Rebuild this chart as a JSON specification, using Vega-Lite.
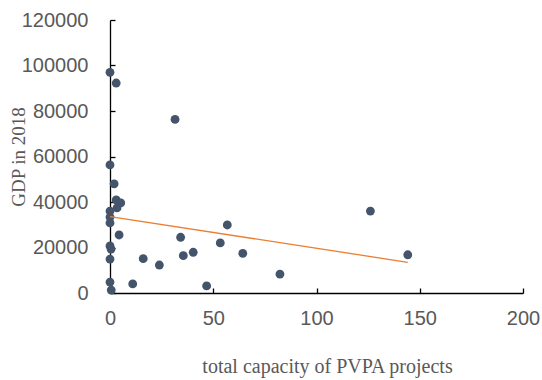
{
  "$schema": "https://vega.github.io/schema/vega-lite/v6.json",
  "width": 413,
  "height": 273,
  "autosize": {"type": "none"},
  "padding": {"left": 110, "top": 20, "right": 19, "bottom": 87},
  "background": "white",
  "config": {"view": {"stroke": null}},
  "data": {"values": [
    {"capacity": 0, "gdp": 97000},
    {"capacity": 3, "gdp": 92300},
    {"capacity": 31.5, "gdp": 76300},
    {"capacity": 0, "gdp": 56300},
    {"capacity": 2, "gdp": 48000},
    {"capacity": 3, "gdp": 40900},
    {"capacity": 5.2, "gdp": 39600},
    {"capacity": 3.4, "gdp": 37400},
    {"capacity": 0, "gdp": 36000},
    {"capacity": 0, "gdp": 33400},
    {"capacity": 0, "gdp": 30800},
    {"capacity": 4.4, "gdp": 25500},
    {"capacity": 0, "gdp": 20700},
    {"capacity": 0.5, "gdp": 19300},
    {"capacity": 0, "gdp": 14900},
    {"capacity": 0, "gdp": 4800},
    {"capacity": 0.6, "gdp": 1300},
    {"capacity": 11, "gdp": 4000},
    {"capacity": 16.1, "gdp": 15100},
    {"capacity": 23.9, "gdp": 12300},
    {"capacity": 34.2, "gdp": 24500},
    {"capacity": 35.5, "gdp": 16400},
    {"capacity": 40.3, "gdp": 17900},
    {"capacity": 56.8, "gdp": 29900},
    {"capacity": 53.4, "gdp": 22000},
    {"capacity": 64.3, "gdp": 17400},
    {"capacity": 82.3, "gdp": 8300},
    {"capacity": 46.8, "gdp": 3100},
    {"capacity": 126.1, "gdp": 36000},
    {"capacity": 144.2, "gdp": 16800}
  ]},
  "encoding": {
    "x": {
      "field": "capacity", "type": "quantitative",
      "scale": {"domain": [0, 200], "nice": false},
      "axis": {
        "title": "total capacity of PVPA projects",
        "values": [0, 50, 100, 150, 200],
        "grid": false,
        "labelFlush": false,
        "labelOverlap": false,
        "labelBound": false,
        "domainColor": "black", "domainWidth": 1.3,
        "tickColor": "black", "tickWidth": 1.3, "tickSize": -5,
        "labelFont": "Liberation Sans", "labelFontSize": 20, "labelColor": "#595959",
        "labelPadding": 20,
        "titleFont": "Liberation Serif", "titleFontSize": 20, "titleFontWeight": "normal", "titleColor": "#595959",
        "titleBaseline": "alphabetic",
        "titleAlign": "center",
        "titleX": 217,
        "titleY": 79
      }
    },
    "y": {
      "field": "gdp", "type": "quantitative",
      "scale": {"domain": [0, 120000], "nice": false},
      "axis": {
        "title": "GDP in 2018",
        "values": [0, 20000, 40000, 60000, 80000, 100000, 120000],
        "format": "d",
        "grid": false,
        "labelFlush": false,
        "labelOverlap": false,
        "labelBound": false,
        "domainColor": "black", "domainWidth": 1.3,
        "tickColor": "black", "tickWidth": 1.3, "tickSize": -5,
        "labelFont": "Liberation Sans", "labelFontSize": 20, "labelColor": "#595959",
        "labelPadding": 27,
        "titleFont": "Liberation Serif", "titleFontSize": 19, "titleFontWeight": "normal", "titleColor": "#595959",
        "titleBaseline": "alphabetic",
        "titleX": -86
      }
    }
  },
  "layer": [
    {
      "mark": {"type": "circle", "size": 78, "color": "#44546A", "opacity": 1}
    },
    {
      "transform": [{"regression": "gdp", "on": "capacity"}],
      "mark": {"type": "line", "color": "#ED7D31", "strokeWidth": 1.3}
    }
  ]
}
